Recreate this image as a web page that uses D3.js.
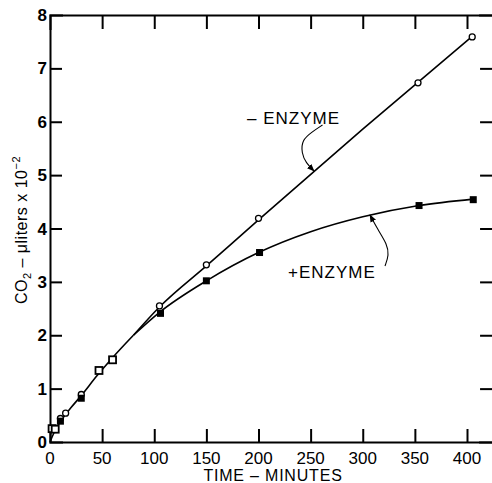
<!DOCTYPE html>
<html><head><meta charset="utf-8">
<script src="https://cdn.jsdelivr.net/npm/d3@7"></script>
<style>body{margin:0;background:#fff}svg{display:block}</style>
</head><body>
<script>
// ---- data ----
const xTicks = [0, 50, 100, 150, 200, 250, 300, 350, 400];
const yTicks = [0, 1, 2, 3, 4, 5, 6, 7, 8];
// -ENZYME : open circles
const minusTime = [10, 15, 30, 105, 150, 200, 353, 405];
const minusCO2  = [0.44, 0.54, 0.89, 2.55, 3.32, 4.19, 6.73, 7.59];
// +ENZYME : filled squares
const plusTime = [10, 30, 106, 150, 201, 354, 406];
const plusCO2  = [0.39, 0.82, 2.41, 3.02, 3.55, 4.43, 4.54];
// points where both coincide : open squares
const bothTime = [2, 5, 47, 60];
const bothCO2  = [0.25, 0.24, 1.34, 1.54];
// drawn curves
const commonFitTime = [0, 5, 10, 20, 30, 45, 60, 80];
const commonFitCO2  = [0, 0.22, 0.38, 0.64, 0.87, 1.24, 1.58, 2.0];
const minusFitTime = [80, 105, 150, 200, 300, 405];
const minusFitCO2  = [2.0, 2.53, 3.3, 4.16, 5.86, 7.6];
const plusFitTime = [80, 105, 150, 200, 250, 300, 354, 406];
const plusFitCO2  = [2.0, 2.43, 3.02, 3.55, 3.94, 4.22, 4.43, 4.55];

const W = 492, H = 483;
const svg = d3.select("body").append("svg").attr("width", W).attr("height", H);
const x = d3.scaleLinear().domain([0, 425]).range([50, 50 + 425 * 417 / 400]);
const y = d3.scaleLinear().domain([0, 8]).range([442, 15]);
const font = "'Liberation Sans', Arial, sans-serif";

// axes frame
const g = svg.append("g");
g.append("g").attr("transform", `translate(0,${y(0)})`)
  .call(d3.axisBottom(x).tickValues(xTicks.slice(1)).tickSize(-13).tickFormat(""))
  .call(a => a.selectAll("path,line").attr("stroke", "#000").attr("stroke-width", 2));
g.append("g").attr("transform", `translate(0,${y(8)})`)
  .call(d3.axisTop(x).tickValues(xTicks.slice(1)).tickSize(-14).tickFormat(""))
  .call(a => a.selectAll("path,line").attr("stroke", "#000").attr("stroke-width", 2));
g.append("g").attr("transform", `translate(${x(0)},0)`)
  .call(d3.axisLeft(y).tickValues(yTicks.slice(1, -1)).tickSize(-12).tickFormat(""))
  .call(a => a.selectAll("path,line").attr("stroke", "#000").attr("stroke-width", 2));
g.append("g").attr("transform", `translate(${x(425)},0)`)
  .call(d3.axisRight(y).tickValues(yTicks.slice(1, -1)).tickSize(-13).tickFormat(""))
  .call(a => a.selectAll("path,line").attr("stroke", "#000").attr("stroke-width", 2));
g.selectAll(".domain").attr("stroke-linecap", "square");

// tick labels
svg.append("g").selectAll("text").data(xTicks).join("text")
  .attr("x", d => x(d)).attr("y", 464).attr("text-anchor", "middle")
  .attr("font-family", font).attr("font-size", 17).text(d => d);
svg.append("g").selectAll("text").data(yTicks).join("text")
  .attr("x", 47).attr("y", d => y(d) + 6).attr("text-anchor", "end")
  .attr("font-family", font).attr("font-size", 17).attr("font-weight", "bold").text(d => d);

// axis titles
svg.append("text").attr("x", 273).attr("y", 481).attr("text-anchor", "middle")
  .attr("font-family", font).attr("font-size", 16).attr("letter-spacing", 0.8)
  .text("TIME – MINUTES");
const yl = svg.append("text").attr("transform", "translate(27,230) rotate(-90)")
  .attr("text-anchor", "middle").attr("font-family", font).attr("font-size", 16)
  .attr("letter-spacing", 0.5);
yl.append("tspan").text("CO");
yl.append("tspan").attr("font-size", 11).attr("dy", 4).text("2");
yl.append("tspan").attr("dy", -4).text(" – μliters x 10");
yl.append("tspan").attr("font-size", 11).attr("dy", -7).text("−2");

// curves
const line = d3.line().x(d => x(d[0])).y(d => y(d[1])).curve(d3.curveMonotoneX);
const zip = (a, b) => a.map((v, i) => [v, b[i]]);
svg.append("path").attr("d", line(zip(commonFitTime, commonFitCO2)))
  .attr("fill", "none").attr("stroke", "#000").attr("stroke-width", 1.6);
svg.append("path").attr("d", line(zip(minusFitTime, minusFitCO2)))
  .attr("fill", "none").attr("stroke", "#000").attr("stroke-width", 1.6);
svg.append("path").attr("d", line(zip(plusFitTime, plusFitCO2)))
  .attr("fill", "none").attr("stroke", "#000").attr("stroke-width", 1.6);

// markers
svg.append("g").selectAll("circle").data(zip(minusTime, minusCO2)).join("circle")
  .attr("cx", d => x(d[0])).attr("cy", d => y(d[1])).attr("r", 3)
  .attr("fill", "#fff").attr("stroke", "#000").attr("stroke-width", 1.3);
svg.append("g").selectAll("rect").data(zip(plusTime, plusCO2)).join("rect")
  .attr("x", d => x(d[0]) - 3.5).attr("y", d => y(d[1]) - 3.5)
  .attr("width", 7).attr("height", 7).attr("fill", "#000");
svg.append("g").selectAll("rect").data(zip(bothTime, bothCO2)).join("rect")
  .attr("x", d => x(d[0]) - 3.5).attr("y", d => y(d[1]) - 3.5)
  .attr("width", 7).attr("height", 7).attr("fill", "#fff")
  .attr("stroke", "#000").attr("stroke-width", 1.8);

// annotations
svg.append("text").attr("x", 247).attr("y", 124).attr("font-family", font)
  .attr("font-size", 17).attr("letter-spacing", 1).text("– ENZYME");
svg.append("text").attr("x", 288).attr("y", 278).attr("font-family", font)
  .attr("font-size", 17).attr("letter-spacing", 1).text("+ENZYME");

svg.append("defs").append("marker").attr("id", "ah").attr("viewBox", "0 0 10 10")
  .attr("refX", 9).attr("refY", 5).attr("markerWidth", 7).attr("markerHeight", 7)
  .attr("orient", "auto").append("path").attr("d", "M0,1 L10,5 L0,9 Z").attr("fill", "#000");
const arrow = d3.line().curve(d3.curveBasis);
svg.append("path").attr("d", arrow([[322.5, 125], [312, 132], [302, 140], [301.5, 153], [306, 163], [314, 171]]))
  .attr("fill", "none").attr("stroke", "#000").attr("stroke-width", 1.1).attr("marker-end", "url(#ah)");
svg.append("path").attr("d", arrow([[385, 266], [389, 255], [387, 244], [378, 230], [370, 215]]))
  .attr("fill", "none").attr("stroke", "#000").attr("stroke-width", 1.1).attr("marker-end", "url(#ah)");
</script>
</body></html>
